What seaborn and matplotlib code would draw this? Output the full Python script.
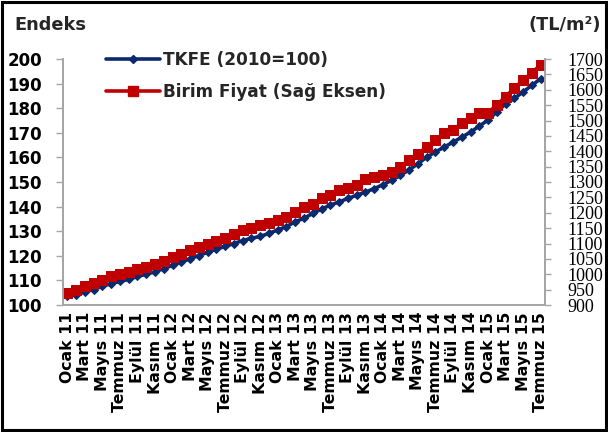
import matplotlib
matplotlib.use("Agg")
import matplotlib.pyplot as plt
import seaborn as sns
import numpy as np
import pandas as pd
from matplotlib.patches import Rectangle
from matplotlib.lines import Line2D

months = ["Ocak", "Şubat", "Mart", "Nisan", "Mayıs", "Haziran",
          "Temmuz", "Ağustos", "Eylül", "Ekim", "Kasım", "Aralık"]
periods = [f"{months[i % 12]} {11 + i // 12}" for i in range(55)]

tkfe = [103.5, 104.2, 105.3, 106.3, 107.6, 108.7, 109.6, 110.4, 111.6, 112.5,
        113.5, 114.8, 116.1, 117.4, 118.8, 120.1, 121.4, 122.7, 123.8, 125.0,
        126.2, 127.1, 127.9, 129.1, 130.5, 131.9, 133.8, 135.3, 137.2, 139.0,
        140.6, 141.9, 143.3, 144.6, 145.9, 147.3, 148.9, 150.7, 152.7, 155.0,
        157.4, 160.1, 162.2, 164.2, 166.2, 168.2, 170.3, 172.7, 175.2, 178.5,
        181.8, 184.0, 186.6, 189.3, 192.0]

birim_fiyat = [940, 950, 961, 972, 982, 994, 1000, 1006, 1016, 1025,
               1034, 1044, 1055, 1066, 1078, 1088, 1098, 1108, 1119, 1132,
               1144, 1150, 1160, 1166, 1177, 1187, 1203, 1220, 1230, 1247,
               1258, 1274, 1282, 1290, 1309, 1315, 1322, 1334, 1350, 1372,
               1392, 1414, 1436, 1460, 1468, 1492, 1508, 1524, 1526, 1550,
               1578, 1605, 1632, 1655, 1681]

left_ticks = list(range(100, 201, 10))
right_ticks = list(range(900, 1701, 50))

sns.set_theme(style="white")
plt.rcParams['font.family'] = ['DejaVu Sans']

df = pd.DataFrame({"idx": np.arange(len(periods)), "period": periods,
                   "tkfe": tkfe, "birim": birim_fiyat})

fig = plt.figure(figsize=(6.08, 4.32), dpi=100)
fig.patch.set_facecolor("white")
ax = fig.add_axes([63/608, 1-305/432, (545-63)/608, (305-59)/432])
ax2 = ax.twinx()

blue = "#0b2a6e"
red = "#c00000"
gray = "#a6a6a6"

sns.lineplot(data=df, x="idx", y="tkfe", ax=ax, color=blue, lw=2.6,
             marker="D", markersize=4.5, markeredgecolor=blue, legend=False)
sns.lineplot(data=df, x="idx", y="birim", ax=ax2, color=red, lw=2.6,
             marker="s", markersize=7, markeredgecolor=red, legend=False)

ax.set_xlim(-0.5, len(periods) - 0.5)
ax.set_ylim(100, 200)
ax2.set_ylim(900, 1700)
ax.set_yticks(left_ticks)
ax2.set_yticks(right_ticks)
ax.set_yticklabels([str(t) for t in left_ticks], fontsize=12, fontweight="bold", color="black")
ax2.set_yticklabels([str(t) for t in right_ticks], family="Liberation Serif", fontsize=13, color="black")

ax.set_xticks(df["idx"][::2])
ax.set_xticklabels(df["period"][::2], rotation=90, fontsize=11.3, fontweight="bold", color="black")
ax.set_xticks(np.arange(-0.5, len(periods), 1), minor=True)
ax.tick_params(axis="x", which="major", length=0, pad=5)
ax.tick_params(axis="x", which="minor", length=5, width=1, color=gray, direction="out")
ax.tick_params(axis="y", length=5, width=1, color=gray, direction="out", pad=10)
ax2.tick_params(axis="y", length=4, width=1, color=gray, direction="out", pad=12)

for a in (ax, ax2):
    a.set_xlabel("")
    a.set_ylabel("")
    a.grid(False)
    a.spines["top"].set_visible(False)
    for s in ("left", "bottom", "right"):
        a.spines[s].set_color(gray)
        a.spines[s].set_linewidth(1.3)
ax2.patch.set_visible(False)

fig.text(14/608, 1-25/432, "Endeks", fontsize=12.8, fontweight="bold", ha="left", va="center")
fig.text(601/608, 1-25/432, "(TL/m²)", fontsize=12.8, fontweight="bold", ha="right", va="center")

handles = [Line2D([], [], color=blue, lw=2.6, marker="D", markersize=4.5),
           Line2D([], [], color=red, lw=2.6, marker="s", markersize=7)]
leg = ax2.legend(handles, ["TKFE (2010=100)", "Birim Fiyat (Sağ Eksen)"],
                 loc="upper left", bbox_to_anchor=(106/608, 1-51/432),
                 bbox_transform=fig.transFigure, frameon=False,
                 prop={"weight": "bold", "size": 12.2}, handlelength=3.2,
                 handletextpad=0.15, labelspacing=0.85, numpoints=1,
                 borderaxespad=0, borderpad=0)

fig.patches.append(Rectangle((0.003, 0.004), 0.993, 0.992, transform=fig.transFigure,
                             fill=False, edgecolor="black", lw=2.2))

fig.savefig("out.png", dpi=100, facecolor="white")
